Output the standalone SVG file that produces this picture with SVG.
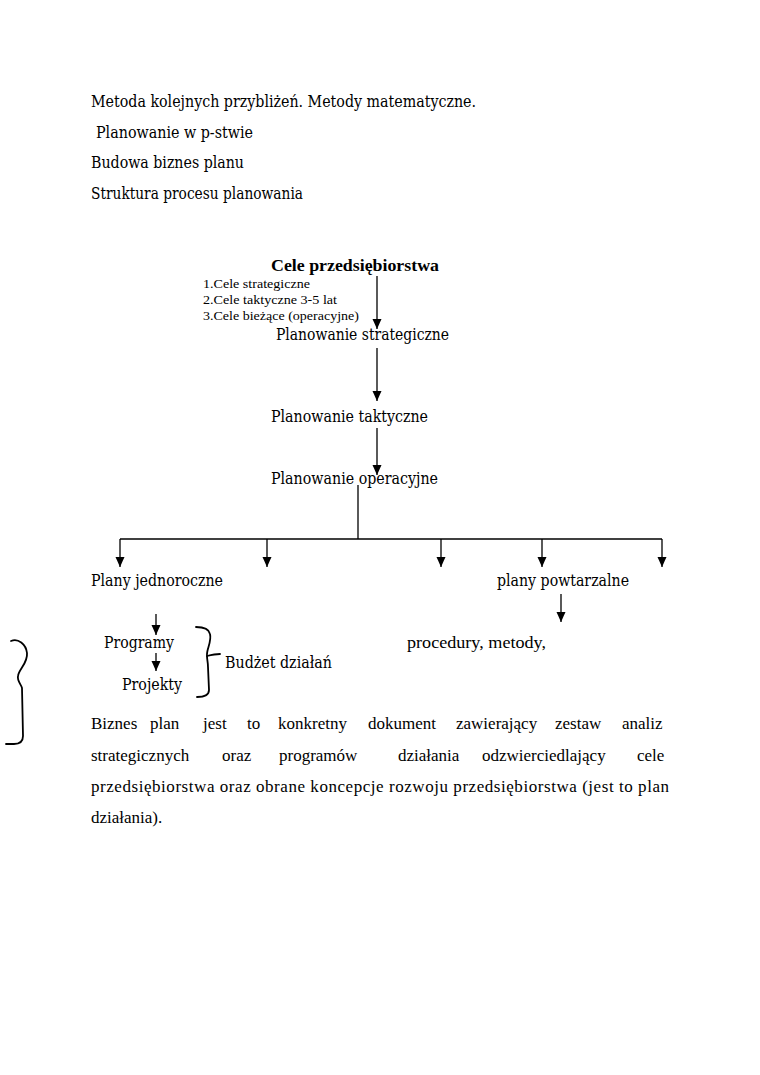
<svg xmlns="http://www.w3.org/2000/svg" width="760" height="1075" viewBox="0 0 760 1075">
<style>
.t{font-family:"Liberation Serif","DejaVu Serif",serif;font-size:17px;fill:#000}
.d{font-family:"DejaVu Serif","Liberation Serif",serif;font-size:16px;fill:#000}
.s{font-family:"Liberation Serif",serif;font-size:12.5px;fill:#000}
.b{font-family:"Liberation Serif",serif;font-size:17px;font-weight:bold;fill:#000}
.ln{stroke:#000;stroke-width:1.3;fill:none}
.br{stroke:#000;stroke-width:1.8;fill:none;stroke-linecap:round}
</style>
<defs>
<marker id="a" markerUnits="userSpaceOnUse" markerWidth="10" markerHeight="10" refX="10" refY="5" orient="auto" viewBox="0 0 10 10">
<path d="M0,0.5 L10,5 L0,9.5 Z" fill="#000"/>
</marker>
</defs>
<rect width="760" height="1075" fill="#fff"/>
<g id="header">
<text class="d" x="91" y="107" textLength="385" lengthAdjust="spacingAndGlyphs">Metoda kolejnych przybliżeń. Metody matematyczne.</text>
<text class="d" x="96" y="138" textLength="157" lengthAdjust="spacingAndGlyphs">Planowanie w p-stwie</text>
<text class="d" x="91" y="168" textLength="153" lengthAdjust="spacingAndGlyphs">Budowa biznes planu</text>
<text class="d" x="91" y="199" textLength="212" lengthAdjust="spacingAndGlyphs">Struktura procesu planowania</text>
</g>
<g id="connectors">
<line class="ln" x1="377" y1="276" x2="377" y2="329" marker-end="url(#a)"/>
<line class="ln" x1="377" y1="348" x2="377" y2="401" marker-end="url(#a)"/>
<line class="ln" x1="377" y1="428" x2="377" y2="475" marker-end="url(#a)"/>
<line class="ln" x1="358" y1="485" x2="358" y2="539"/>
<line class="ln" x1="120" y1="539" x2="662" y2="539"/>
<line class="ln" x1="120" y1="539" x2="120" y2="567" marker-end="url(#a)"/>
<line class="ln" x1="267" y1="539" x2="267" y2="567" marker-end="url(#a)"/>
<line class="ln" x1="441" y1="539" x2="441" y2="567" marker-end="url(#a)"/>
<line class="ln" x1="542" y1="539" x2="542" y2="567" marker-end="url(#a)"/>
<line class="ln" x1="662" y1="539" x2="662" y2="567" marker-end="url(#a)"/>
<line class="ln" x1="561" y1="594" x2="561" y2="622" marker-end="url(#a)"/>
<line class="ln" x1="156" y1="614" x2="156" y2="635" marker-end="url(#a)"/>
<line class="ln" x1="156" y1="653" x2="156" y2="671" marker-end="url(#a)"/>
</g>
<g id="cele">
<text class="b" x="271" y="271" textLength="168" lengthAdjust="spacingAndGlyphs">Cele przedsiębiorstwa</text>
<text class="s" x="203" y="288" textLength="107" lengthAdjust="spacingAndGlyphs">1.Cele strategiczne</text>
<text class="s" x="203" y="304" textLength="134" lengthAdjust="spacingAndGlyphs">2.Cele taktyczne 3-5 lat</text>
<text class="s" x="203" y="320" textLength="156" lengthAdjust="spacingAndGlyphs">3.Cele bieżące (operacyjne)</text>
</g>
<g id="plan-strat"><text class="d" x="276" y="340" textLength="173" lengthAdjust="spacingAndGlyphs">Planowanie strategiczne</text></g>
<g id="plan-takt"><text class="d" x="271" y="422" textLength="157" lengthAdjust="spacingAndGlyphs">Planowanie taktyczne</text></g>
<g id="plan-oper"><text class="d" x="271" y="484" textLength="167" lengthAdjust="spacingAndGlyphs">Planowanie operacyjne</text></g>
<g id="plany-jedn"><text class="d" x="91" y="586" textLength="132" lengthAdjust="spacingAndGlyphs">Plany jednoroczne</text></g>
<g id="plany-powt"><text class="d" x="497" y="586" textLength="132" lengthAdjust="spacingAndGlyphs">plany powtarzalne</text></g>
<g id="procedury"><text class="t" x="407" y="648" textLength="139" lengthAdjust="spacingAndGlyphs">procedury, metody,</text></g>
<g id="programy"><text class="d" x="104" y="648" textLength="70" lengthAdjust="spacingAndGlyphs">Programy</text></g>
<g id="projekty"><text class="d" x="122" y="690" textLength="60" lengthAdjust="spacingAndGlyphs">Projekty</text></g>
<g id="budzet">
<path class="br" d="M196,627 C204,627 209,629 210,634 C212,642 206,650 207,656 C207,660 208,662 208,667 L209,690 C209,695 205,697 197,697"/>
<path class="br" d="M207,656 C211,655 215,654 220,654"/>
<text class="d" x="225" y="668" textLength="107" lengthAdjust="spacingAndGlyphs">Budżet działań</text>
</g>
<g id="left-brace">
<path class="br" d="M11,641 C18,638 26,644 27,653 C28,663 19,669 18,676 C17,681 21,684 22,688 L23,736 C23,742 20,744 14,744 L6,744"/>
</g>
<g id="paragraph">
<text class="t" y="729"><tspan x="91">Biznes</tspan><tspan x="150">plan</tspan><tspan x="203">jest</tspan><tspan x="247">to</tspan><tspan x="278">konkretny</tspan><tspan x="368">dokument</tspan><tspan x="456">zawierający</tspan><tspan x="555">zestaw</tspan><tspan x="622">analiz</tspan></text>
<text class="t" y="761"><tspan x="91">strategicznych</tspan><tspan x="222">oraz</tspan><tspan x="279">programów</tspan><tspan x="398">działania</tspan><tspan x="482">odzwierciedlający</tspan><tspan x="637">cele</tspan></text>
<text class="t" x="91" y="792" textLength="578" lengthAdjust="spacing">przedsiębiorstwa oraz obrane koncepcje rozwoju przedsiębiorstwa (jest to plan</text>
<text class="t" x="91" y="823">działania).</text>
</g>
</svg>
